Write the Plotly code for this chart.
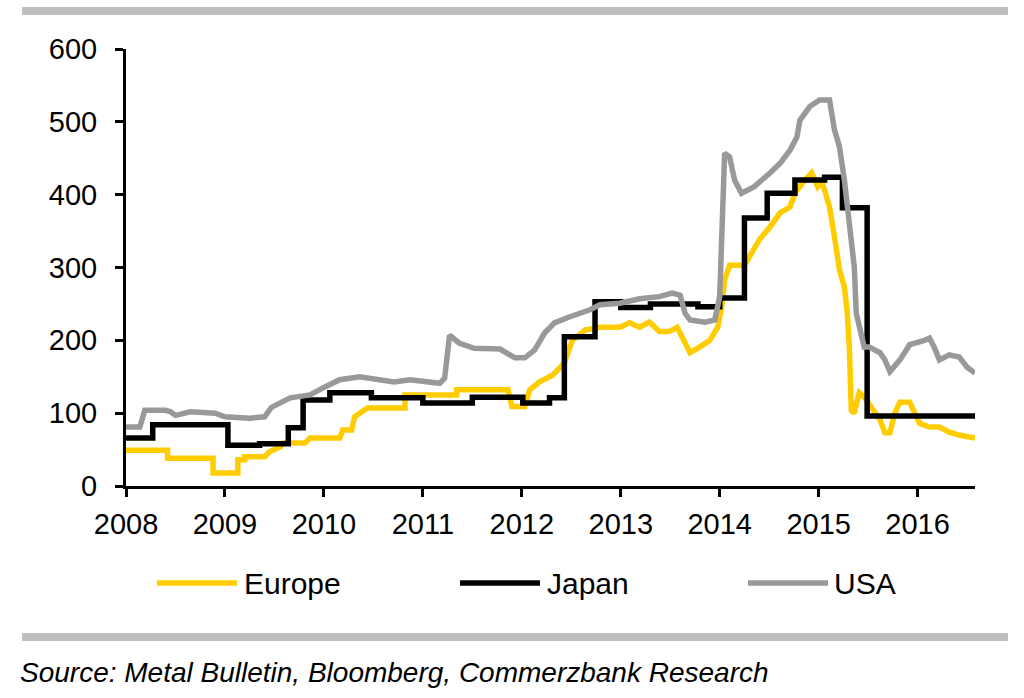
import plotly.graph_objects as go

# ---- data ----
europe_x = [2008.00, 2008.42, 2008.42, 2008.88, 2008.88, 2009.13, 2009.13, 2009.20, 2009.20, 2009.40,
            2009.45, 2009.56, 2009.59, 2009.81, 2009.86, 2010.16, 2010.19, 2010.28, 2010.31, 2010.38,
            2010.44, 2010.82, 2010.82, 2011.34, 2011.34, 2011.86, 2011.90, 2012.03, 2012.08, 2012.18,
            2012.31, 2012.43, 2012.51, 2012.64, 2012.79, 2012.99, 2013.09, 2013.19, 2013.29, 2013.39,
            2013.49, 2013.57, 2013.63, 2013.70, 2013.80, 2013.90, 2013.98, 2014.02, 2014.05, 2014.10,
            2014.25, 2014.32, 2014.40, 2014.51, 2014.61, 2014.71, 2014.76, 2014.86, 2014.93, 2014.99,
            2015.03, 2015.06, 2015.11, 2015.16, 2015.21, 2015.26, 2015.29, 2015.31, 2015.33, 2015.36,
            2015.41, 2015.46, 2015.52, 2015.62, 2015.67, 2015.72, 2015.77, 2015.82, 2015.92, 2015.97,
            2016.02, 2016.12, 2016.22, 2016.32, 2016.42, 2016.58]
europe_y = [49, 49, 38, 38, 18, 18, 36, 36, 40, 40,
            47, 54, 59, 59, 66, 66, 77, 77, 95, 102,
            107, 107, 125, 125, 132, 132, 109, 109, 132, 143,
            152, 169, 200, 214, 218, 218, 224, 218, 225, 212,
            212, 218, 200, 183, 191, 200, 218, 246, 283, 303,
            303, 320, 338, 356, 375, 383, 402, 420, 430, 411,
            418, 406, 383, 342, 297, 273, 237, 191, 104, 100,
            128, 122, 111, 91, 73, 73, 100, 115, 115, 100,
            86, 81, 81, 74, 70, 66]

japan_x = [2008.00, 2008.27, 2009.03, 2009.35, 2009.64, 2009.79, 2010.06, 2010.48, 2011.00, 2011.50,
           2012.01, 2012.28, 2012.43, 2012.74, 2013.00, 2013.30, 2013.78, 2014.00, 2014.25, 2014.48,
           2014.76, 2015.06, 2015.24, 2015.49, 2016.58]
japan_y = [66, 84, 56, 58, 80, 118, 128, 121, 114, 122,
           114, 121, 205, 253, 245, 250, 246, 258, 368, 402,
           420, 424, 382, 96, 96]

usa_x = [2008.00, 2008.14, 2008.19, 2008.40, 2008.45, 2008.50, 2008.65, 2008.90, 2009.00, 2009.25,
         2009.40, 2009.47, 2009.66, 2009.86, 2010.01, 2010.16, 2010.36, 2010.56, 2010.71, 2010.87,
         2011.02, 2011.17, 2011.22, 2011.27, 2011.37, 2011.52, 2011.78, 2011.93, 2012.03, 2012.13,
         2012.23, 2012.33, 2012.48, 2012.69, 2012.79, 2012.99, 2013.19, 2013.39, 2013.52, 2013.60,
         2013.65, 2013.70, 2013.85, 2013.95, 2014.00, 2014.02, 2014.05, 2014.10, 2014.15, 2014.22,
         2014.35, 2014.51, 2014.61, 2014.71, 2014.78, 2014.81, 2014.91, 2015.01, 2015.11, 2015.16,
         2015.21, 2015.26, 2015.31, 2015.36, 2015.38, 2015.46, 2015.51, 2015.62, 2015.67, 2015.72,
         2015.82, 2015.92, 2016.07, 2016.12, 2016.17, 2016.22, 2016.32, 2016.42, 2016.50, 2016.58]
usa_y = [81, 81, 104, 104, 102, 97, 102, 100, 95, 93,
         95, 108, 121, 125, 136, 146, 150, 147, 143, 146,
         143, 141, 148, 207, 196, 189, 188, 176, 176, 187,
         210, 224, 232, 242, 249, 251, 257, 260, 265, 262,
         237, 228, 225, 228, 260, 365, 457, 452, 420, 402,
         411, 430, 443, 461, 479, 502, 521, 530, 530, 489,
         466, 420, 365, 301, 237, 191, 191, 183, 173, 157,
         173, 194, 200, 203, 190, 173, 180, 177, 163, 155, 150]

series_names = ["Europe", "Japan", "USA"]
series_colors = ["#FFCC00", "#000000", "#999999"]
y_ticks = [0, 100, 200, 300, 400, 500, 600]
x_ticks = [2008, 2009, 2010, 2011, 2012, 2013, 2014, 2015, 2016]
source_text = "Source: Metal Bulletin, Bloomberg, Commerzbank Research"

# ---- layout geometry (page pixels) ----
W, H = 1024, 698
L, R, T, B = 126, 49, 49, 212
PW, PH = W - L - R, H - T - B
FONT = "Arial, 'Liberation Sans', sans-serif"


def px(xp):
    return (xp - L) / PW


def py(yp):
    return (H - B - yp) / PH


fig = go.Figure()
fig.add_trace(go.Scatter(x=europe_x, y=europe_y, mode="lines", name=series_names[0],
                         line=dict(color=series_colors[0], width=5.5)))
fig.add_trace(go.Scatter(x=japan_x, y=japan_y, mode="lines", name=series_names[1],
                         line=dict(color=series_colors[1], width=5.5, shape="hv")))
fig.add_trace(go.Scatter(x=usa_x, y=usa_y, mode="lines", name=series_names[2],
                         line=dict(color=series_colors[2], width=5.5)))

shapes = []
annotations = []
# grey rules top and bottom
for y0, y1 in [(7, 15), (633, 641)]:
    shapes.append(dict(type="rect", xref="paper", yref="paper",
                       x0=px(22), x1=px(1008), y0=py(y1), y1=py(y0),
                       fillcolor="#BFBFBF", line=dict(width=0), layer="above"))
# custom legend
leg_y = 583
leg_items = [(157, 237, 242), (460, 540, 545), (748, 828, 832)]
for (x0, x1, xt), name, col in zip(leg_items, series_names, series_colors):
    shapes.append(dict(type="line", xref="paper", yref="paper",
                       x0=px(x0), x1=px(x1), y0=py(leg_y), y1=py(leg_y),
                       line=dict(color=col, width=5.5)))
    annotations.append(dict(text=name, xref="paper", yref="paper", x=px(xt), y=py(leg_y),
                            xanchor="left", yanchor="middle", showarrow=False,
                            font=dict(family=FONT, size=30, color="#000000")))
annotations.append(dict(text="<i>" + source_text + "</i>", xref="paper", yref="paper",
                        x=px(18), y=py(672), xanchor="left", yanchor="middle", showarrow=False,
                        font=dict(family=FONT, size=28, color="#000000")))

fig.update_layout(
    width=W, height=H,
    margin=dict(l=L, r=R, t=T, b=B, pad=0),
    paper_bgcolor="white", plot_bgcolor="white",
    showlegend=False,
    font=dict(family=FONT, size=29, color="#000000"),
    shapes=shapes, annotations=annotations,
    xaxis=dict(range=[2008, 2016.58], tickvals=x_ticks, ticktext=[str(v) for v in x_ticks],
               showgrid=False, zeroline=False, showline=True, linecolor="#000000", linewidth=3,
               ticks="outside", ticklen=8, tickwidth=3, tickcolor="#000000",
               tickfont=dict(family=FONT, size=29), ticklabelstandoff=2),
    yaxis=dict(range=[0, 600], tickvals=y_ticks, showgrid=False, zeroline=False,
               showline=True, linecolor="#000000", linewidth=3,
               ticks="outside", ticklen=8, tickwidth=3, tickcolor="#000000",
               tickfont=dict(family=FONT, size=29), ticklabelstandoff=12),
)

fig.write_html("out.html", config={"displayModeBar": False},
               post_script="document.body.style.margin='0px';document.body.style.overflow='hidden';")
